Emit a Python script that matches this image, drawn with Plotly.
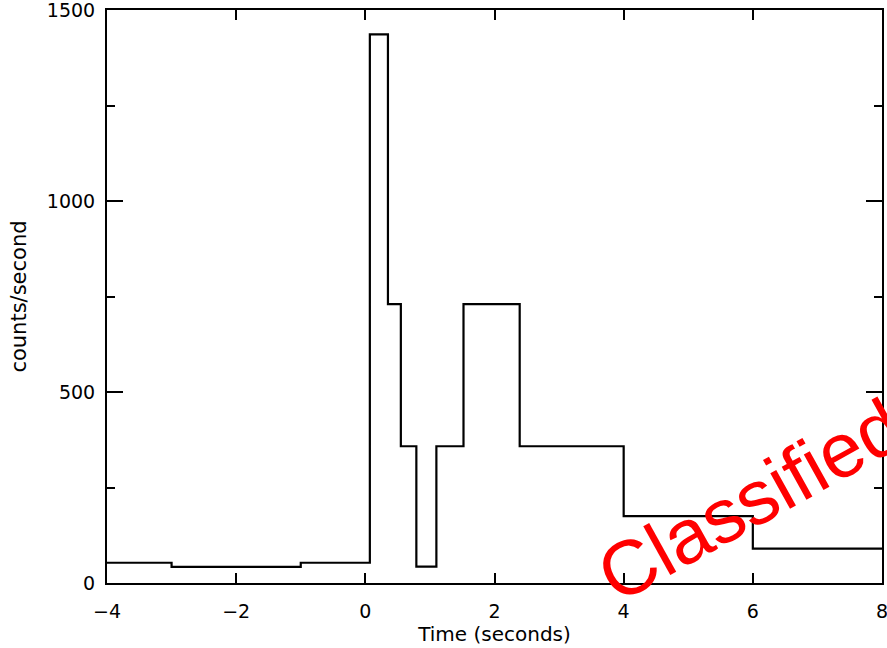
import plotly.graph_objects as go

# Light curve: bin edges (s) and count rate in each bin
bin_edges = [-4, -3, -1, 0.07, 0.35, 0.55, 0.79, 1.1, 1.52, 2.39, 4, 6, 8]
count_rate = [53, 42, 53, 1436, 730, 358, 43, 358, 730, 358, 175, 90]

x_ticks = [-4, -2, 0, 2, 4, 6, 8]
y_ticks = [0, 500, 1000, 1500]

# step trace: each rate holds from its left edge to the next edge
xs = list(bin_edges)
ys = list(count_rate) + [count_rate[-1]]

FONT = "DejaVu Sans"

fig = go.Figure()
fig.add_trace(go.Scatter(
    x=xs, y=ys, mode="lines", line_shape="hv",
    line=dict(color="black", width=2.2), showlegend=False,
    hoverinfo="skip", cliponaxis=False,
))

W, H = 887, 648
ML, MR, MT, MB = 107, 5, 10, 65

axis_common = dict(
    showgrid=False, zeroline=False, showline=True, linecolor="black",
    linewidth=2, mirror="ticks", ticks="inside", tickcolor="black",
    tickwidth=2, tickfont=dict(family=FONT, size=19, color="black"),
    automargin=False, ticklabeloverflow="allow",
)

fig.update_xaxes(
    range=[-4, 8], tickvals=x_ticks, ticklen=10,
    ticklabelstandoff=10,
    title=dict(text="Time (seconds)", standoff=4,
               font=dict(family=FONT, size=20, color="black")),
    **axis_common,
)
fig.update_yaxes(
    range=[0, 1500], tickvals=y_ticks, ticklen=16,
    ticklabelstandoff=6,
    minor=dict(dtick=250, ticks="inside", ticklen=8, tickwidth=2,
               tickcolor="black"),
    title=dict(text="counts/second", standoff=14,
               font=dict(family=FONT, size=21, color="black")),
    **axis_common,
)

# watermark stamped across the lower right of the figure
pw, ph = W - ML - MR, H - MT - MB
cx, cy = 750, 500
fig.add_annotation(
    text="Classified", xref="paper", yref="paper",
    x=(cx - ML) / pw, y=1 - (cy - MT) / ph,
    xanchor="center", yanchor="middle", showarrow=False,
    textangle=-29,
    font=dict(family="Liberation Sans", size=77, color="#ff0000"),
)

fig.update_layout(
    width=W, height=H,
    margin=dict(l=ML, r=MR, t=MT, b=MB),
    paper_bgcolor="white", plot_bgcolor="white",
)

fig.write_html("out.html")
